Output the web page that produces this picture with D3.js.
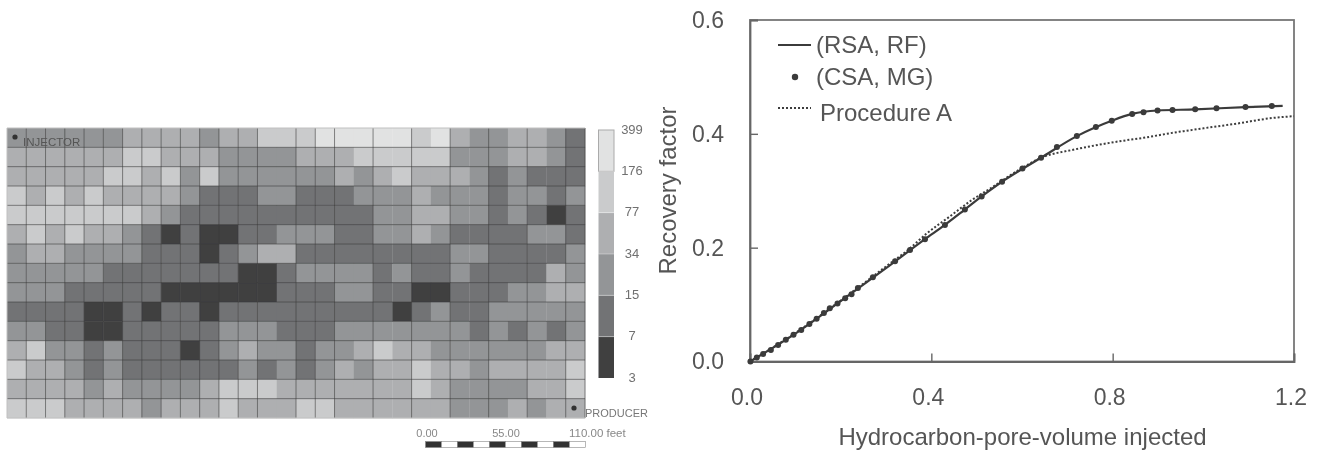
<!DOCTYPE html>
<html>
<head>
<meta charset="utf-8">
<script src="https://cdn.jsdelivr.net/npm/d3@7/dist/d3.min.js"></script>
<style>
  html, body { margin: 0; padding: 0; background: #fff; }
  svg { display: block; font-family: "Liberation Sans", Arial, sans-serif; }
</style>
</head>
<body>
<div id="chart"></div>
<script>
// permeability class per grid block, 0 = 3-7 ... 5 = 176-399
var row00 = [2,2,2,2,2,2,3,3,3,3,2,3,3,4,4,4,5,5,5,5,5,4,5,3,2,2,3,3,2,1];
var row01 = [3,3,3,3,3,3,4,4,3,3,3,2,2,2,2,3,3,3,4,4,4,4,4,2,2,2,3,3,2,1];
var row02 = [3,3,3,3,3,4,4,3,4,2,4,2,2,2,2,2,2,3,2,3,4,3,3,3,2,1,2,1,1,1];
var row03 = [4,3,4,3,4,3,3,3,3,2,1,1,1,2,2,1,1,1,2,2,2,3,2,2,2,1,2,2,1,2];
var row04 = [4,4,4,4,4,4,4,3,2,1,1,1,1,1,1,1,1,1,1,2,2,3,3,2,2,1,2,1,0,1];
var row05 = [3,4,3,4,3,3,2,1,0,1,0,0,1,1,2,2,2,1,1,2,2,3,2,1,1,1,1,2,2,1];
var row06 = [2,3,3,2,2,2,2,1,1,1,0,1,2,3,3,1,1,1,1,1,1,1,1,2,2,1,1,1,1,2];
var row07 = [2,2,2,2,2,1,1,1,1,1,1,1,0,0,1,2,2,2,2,1,2,1,1,2,1,1,1,1,3,2];
var row08 = [2,2,2,1,1,1,1,1,0,0,0,0,0,0,1,1,1,2,2,1,1,0,0,1,1,1,2,2,3,3];
var row09 = [1,1,1,1,0,0,1,0,1,1,0,1,1,1,1,1,1,1,1,1,0,1,2,1,1,2,2,2,2,2];
var row10 = [2,2,1,1,0,0,1,1,1,1,1,2,2,2,1,1,1,2,2,2,2,2,2,2,1,2,1,2,1,2];
var row11 = [3,4,2,2,1,2,1,1,1,0,1,2,3,2,2,1,2,2,3,4,3,3,2,2,2,2,2,2,3,3];
var row12 = [4,3,3,2,1,2,1,1,1,1,1,1,2,1,2,1,2,3,2,3,3,4,3,3,2,3,3,3,3,4];
var row13 = [3,3,3,3,2,3,2,2,2,2,3,4,4,4,3,3,3,3,3,3,3,4,3,2,2,2,2,3,3,4];
var row14 = [4,4,4,3,3,3,3,2,3,3,3,4,3,3,3,4,4,3,3,3,3,3,3,2,2,2,3,2,3,3];
var gridRows = [row00,row01,row02,row03,row04,row05,row06,row07,row08,row09,row10,row11,row12,row13,row14];

var classColors = ['#3f3f40','#727375','#939597','#aeafb1','#cacbcc','#e1e2e2'];
var legendLabels = ['3','7','15','34','77','176','399'];
var scaleLabels = ['0.00','55.00','110.00 feet'];
var scaleSegments = [0,1,2,3,4,5,6,7,8,9];
// block boundaries that carry a vertical grid line
var gridLineCols = [1,2,3,4,5,6,7,8,9,10,11,12,13,15,16,17,19,21,23,25,27,29,30];

// recovery curves: [pore volume injected, recovery factor]
var rsaRf = [[0,0],[0.1,0.049],[0.2,0.106],[0.3,0.164],[0.386,0.215],[0.43,0.24],[0.474,0.267],[0.511,0.29],[0.556,0.316],[0.642,0.358],[0.721,0.396],[0.798,0.423],[0.843,0.435],[0.899,0.441],[0.982,0.443],[1.093,0.447],[1.175,0.449]];
var csaMg = [[0.001,0],[0.015,0.007],[0.029,0.013],[0.046,0.02],[0.062,0.029],[0.079,0.038],[0.096,0.047],[0.113,0.0555],[0.131,0.066],[0.147,0.075],[0.163,0.085],[0.176,0.0935],[0.193,0.102],[0.21,0.111],[0.224,0.118],[0.238,0.129],[0.271,0.148],[0.32,0.176],[0.353,0.196],[0.386,0.215],[0.43,0.24],[0.474,0.267],[0.511,0.29],[0.556,0.316],[0.601,0.339],[0.642,0.358],[0.677,0.377],[0.721,0.396],[0.763,0.412],[0.798,0.423],[0.843,0.435],[0.868,0.438],[0.899,0.441],[0.932,0.442],[0.982,0.443],[1.029,0.445],[1.093,0.447],[1.151,0.449]];
var procedureA = [[0,0],[0.1,0.05],[0.2,0.107],[0.3,0.167],[0.35,0.197],[0.39,0.225],[0.441,0.255],[0.49,0.284],[0.53,0.304],[0.6,0.34],[0.642,0.358],[0.713,0.372],[0.757,0.379],[0.824,0.388],[0.868,0.393],[0.934,0.402],[0.985,0.408],[1.074,0.418],[1.154,0.428],[1.2,0.431]];
var xTicks = [0,0.4,0.8,1.2];
var yTicks = [0,0.2,0.4,0.6];

var svg = d3.select('#chart').append('svg').attr('width', 1323).attr('height', 455);

svg.append('filter').attr('id', 'soft')
  .attr('x', '-2%').attr('y', '-2%').attr('width', '104%').attr('height', '104%')
  .append('feGaussianBlur').attr('stdDeviation', 0.55);

// ---- permeability map ----
var map = svg.append('g').attr('filter', 'url(#soft)');
var colX = d3.scaleLinear().domain([0, 30]).range([7, 585]);
var rowY = d3.scaleLinear().domain([0, 15]).range([128, 418]);
var classColor = d3.scaleOrdinal().domain(d3.range(6)).range(classColors);

gridRows.forEach(function(cells, r) {
  map.selectAll('rect.r' + r).data(cells).enter().append('rect')
    .attr('class', 'r' + r)
    .attr('x', function(d, c) { return colX(c); })
    .attr('y', rowY(r))
    .attr('width', colX(1) - colX(0) + 0.3)
    .attr('height', rowY(1) - rowY(0) + 0.3)
    .attr('fill', function(d) { return classColor(d); });
});

map.selectAll('line.h').data(d3.range(1, 15)).enter().append('line')
  .attr('class', 'h')
  .attr('x1', colX(0)).attr('x2', colX(30))
  .attr('y1', rowY).attr('y2', rowY)
  .attr('stroke', '#3c3c3c').attr('stroke-opacity', 0.6);
map.selectAll('line.v').data(gridLineCols).enter().append('line')
  .attr('class', 'v')
  .attr('y1', rowY(0)).attr('y2', rowY(15))
  .attr('x1', colX).attr('x2', colX)
  .attr('stroke', '#3c3c3c').attr('stroke-opacity', 0.6);
map.append('path')
  .attr('d', 'M' + colX(0) + ',' + rowY(15) + 'V' + rowY(0) + 'H' + colX(30) + 'M' + colX(0) + ',' + rowY(15) + 'H' + colX(30))
  .attr('fill', 'none').attr('stroke', '#c0c0c0');

map.append('circle').attr('cx', 15).attr('cy', 137).attr('r', 2.6).attr('fill', '#333');
map.append('text').attr('x', 23).attr('y', 146).attr('font-size', 11.5).attr('fill', '#555').text('INJECTOR');
map.append('circle').attr('cx', 574).attr('cy', 408).attr('r', 2.6).attr('fill', '#333');
map.append('text').attr('x', 585).attr('y', 416.5).attr('font-size', 11).attr('fill', '#777').text('PRODUCER');

// colour legend
var legY = d3.scaleLinear().domain([0, 6]).range([378, 130]);
map.selectAll('rect.leg').data(classColors).enter().append('rect')
  .attr('class', 'leg')
  .attr('x', 598.5).attr('width', 15.5)
  .attr('y', function(d, i) { return legY(i + 1); })
  .attr('height', legY(0) - legY(1))
  .attr('fill', function(d) { return d; })
  .attr('stroke', function(d, i) { return i === 5 ? '#aaa' : 'none'; });
map.selectAll('line.legsep').data(d3.range(1, 6)).enter().append('line')
  .attr('class', 'legsep')
  .attr('x1', 598.5).attr('x2', 614)
  .attr('y1', legY).attr('y2', legY)
  .attr('stroke', '#fff').attr('stroke-opacity', 0.35);
map.selectAll('text.leg').data(legendLabels).enter().append('text')
  .attr('class', 'leg')
  .attr('x', 632)
  .attr('y', function(d, i) { return legY(i) + 3.5; })
  .attr('text-anchor', 'middle')
  .attr('font-size', 13)
  .attr('fill', '#707070')
  .text(function(d) { return d; });

// scale bar
var barX = d3.scaleLinear().domain([0, 10]).range([425.5, 585.5]);
map.selectAll('rect.bar').data(scaleSegments).enter().append('rect')
  .attr('class', 'bar')
  .attr('x', barX)
  .attr('y', 441.5)
  .attr('width', barX(1) - barX(0))
  .attr('height', 6)
  .attr('fill', function(d) { return d % 2 ? '#fff' : '#333'; })
  .attr('stroke', '#888').attr('stroke-width', 0.6);
map.append('text').attr('x', 427).attr('y', 437).attr('text-anchor', 'middle').attr('font-size', 11).attr('fill', '#888').text(scaleLabels[0]);
map.append('text').attr('x', 506).attr('y', 437).attr('text-anchor', 'middle').attr('font-size', 11).attr('fill', '#888').text(scaleLabels[1]);
map.append('text').attr('x', 569).attr('y', 437).attr('font-size', 11.5).attr('fill', '#888').text(scaleLabels[2]);

// ---- recovery factor plot ----
var plot = svg.append('g').attr('filter', 'url(#soft)');
var x = d3.scaleLinear().domain([0, 1.2]).range([750, 1294]);
var y = d3.scaleLinear().domain([0, 0.6]).range([361.5, 20]);
var line = d3.line().curve(d3.curveMonotoneX).x(function(d) { return x(d[0]); }).y(function(d) { return y(d[1]); });

plot.append('rect')
  .attr('x', x(0)).attr('y', y(0.6))
  .attr('width', x(1.2) - x(0)).attr('height', y(0) - y(0.6))
  .attr('fill', 'none').attr('stroke', '#777').attr('stroke-width', 1.8);

var xAxis = plot.append('g').attr('transform', 'translate(0,' + y(0) + ')')
  .call(d3.axisBottom(x).tickValues(xTicks).tickFormat(d3.format('.1f')).tickSize(-8).tickPadding(27));
var yAxis = plot.append('g').attr('transform', 'translate(' + x(0) + ',0)')
  .call(d3.axisLeft(y).tickValues(yTicks).tickFormat(d3.format('.1f')).tickSize(-8).tickPadding(26));
[xAxis, yAxis].forEach(function(a) {
  a.select('.domain').attr('stroke', '#666').attr('stroke-width', 1.8);
  a.selectAll('.tick line').attr('stroke', '#666').attr('stroke-width', 1.4);
  a.selectAll('text').attr('font-size', 23).attr('font-family', '"Liberation Sans", Arial, sans-serif').attr('fill', '#555');
});
xAxis.selectAll('text').attr('dx', -3.5);

plot.append('path').datum(procedureA).attr('d', line)
  .attr('fill', 'none').attr('stroke', '#3e3e3e').attr('stroke-width', 2).attr('stroke-dasharray', '2,2');
plot.append('path').datum(rsaRf).attr('d', line)
  .attr('fill', 'none').attr('stroke', '#3a3a3a').attr('stroke-width', 2.2);
plot.selectAll('circle.mg').data(csaMg).enter().append('circle')
  .attr('class', 'mg')
  .attr('cx', function(d) { return x(d[0]); })
  .attr('cy', function(d) { return y(d[1]); })
  .attr('r', 3)
  .attr('fill', '#3a3a3a');

plot.append('text').attr('x', 1022.5).attr('y', 445).attr('text-anchor', 'middle')
  .attr('font-size', 24).attr('fill', '#555').text('Hydrocarbon-pore-volume injected');
plot.append('text').attr('transform', 'translate(676,190.5) rotate(-90)').attr('text-anchor', 'middle')
  .attr('font-size', 24).attr('fill', '#555').text('Recovery factor');

// line legend
plot.append('line').attr('x1', 778).attr('x2', 811).attr('y1', 45).attr('y2', 45).attr('stroke', '#3a3a3a').attr('stroke-width', 2);
plot.append('circle').attr('cx', 795).attr('cy', 77).attr('r', 3.2).attr('fill', '#3a3a3a');
plot.append('line').attr('x1', 778).attr('x2', 811).attr('y1', 108).attr('y2', 108).attr('stroke', '#3e3e3e').attr('stroke-width', 2).attr('stroke-dasharray', '2,2');
plot.append('text').attr('x', 816).attr('y', 53).attr('font-size', 24).attr('fill', '#555').text('(RSA, RF)');
plot.append('text').attr('x', 816).attr('y', 85).attr('font-size', 24).attr('fill', '#555').text('(CSA, MG)');
plot.append('text').attr('x', 820).attr('y', 120.5).attr('font-size', 24).attr('fill', '#555').text('Procedure A');
</script>
</body>
</html>
